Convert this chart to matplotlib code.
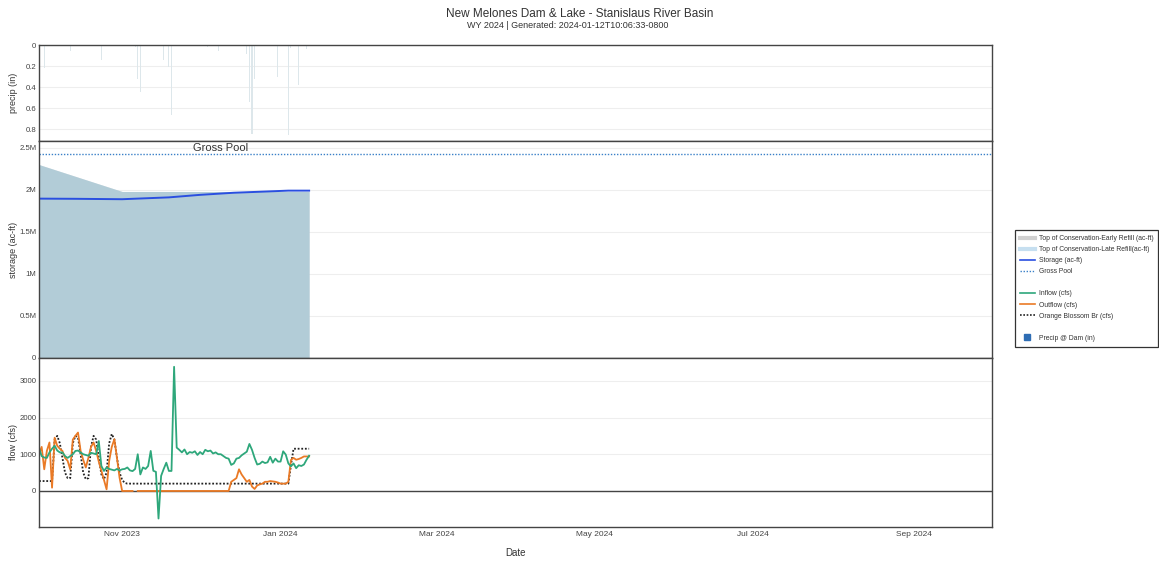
import numpy as np
import pandas as pd
import matplotlib
matplotlib.use("Agg")
import matplotlib.pyplot as plt
import matplotlib.dates as mdates
from matplotlib.lines import Line2D
from matplotlib.ticker import FixedLocator, FuncFormatter

plt.rcParams['font.family'] = ['Liberation Sans', 'DejaVu Sans']

# daily record, WY 2024 to date
dates = pd.date_range('2023-09-30', '2024-01-12', freq='D')

inflow = [1160, 950, 910, 900, 1050, 1150, 1230, 1100, 1050, 1050,
          950, 900, 950, 1000, 1090, 1100, 1050, 1000, 980, 960,
          1040, 1020, 1000, 1360, 680, 545, 640, 600, 580, 560,
          600, 560, 590, 600, 640, 560, 540, 600, 1000, 450,
          640, 600, 680, 1090, 550, 520, -750, 410, 600, 770,
          545, 545, 3380, 1180, 1120, 1050, 1130, 1000, 1060, 1040,
          1080, 980, 1060, 1000, 1120, 1080, 1100, 1020, 1050, 1000,
          1000, 950, 900, 880, 710, 750, 880, 900, 970, 1020,
          1070, 1280, 1120, 900, 720, 740, 800, 760, 780, 930,
          770, 880, 800, 800, 1080, 990, 750, 670, 750, 620,
          700, 680, 720, 850, 960]

outflow = [1000, 1200, 590, 1090, 1320, 90, 1450, 1230, 1150, 1090,
           900, 820, 590, 1400, 1500, 1590, 1090, 850, 640, 900,
           1200, 1320, 1090, 800, 550, 300, 45, 820, 1200, 1410,
           900, 360, 0, 0, 0, 0, 0, np.nan, 0, 0,
           0, 0, 0, 0, 0, 0, 0, 0, 0, 0,
           0, 0, 0, 0, 0, 0, 0, 0, 0, 0,
           0, 0, 0, 0, 0, 0, 0, 0, 0, 0,
           0, 0, 0, 0, 250, 300, 350, 590, 450, 350,
           250, 300, 120, 55, 150, 180, 200, 250, 250, 270,
           260, 250, 230, 200, 200, 200, 250, 845, 900, 850,
           870, 900, 940, 940, 940]

orange_blossom = [270, 270, 270, 270, 270, 270, 1400, 1500, 1300, 900,
                  500, 350, 350, 1300, 1500, 1450, 1000, 500, 320, 350,
                  1200, 1500, 1400, 900, 450, 320, 500, 1300, 1550, 1400,
                  900, 500, 300, 220] + [200] * 63 + [700, 1150, 1150, 1150,
                  1150, 1150, 1150, 1150]

storage_dates = pd.to_datetime(['2023-09-30', '2023-10-14', '2023-11-01', '2023-11-19',
                                '2023-12-01', '2023-12-14', '2024-01-04', '2024-01-12'])
storage = [1.895e6, 1.893e6, 1.888e6, 1.91e6, 1.94e6, 1.965e6, 1.99e6, 1.99e6]

toc_dates = pd.to_datetime(['2023-09-30', '2023-11-01', '2024-01-12'])
toc_early = [2.30e6, 1.98e6, 1.98e6]
toc_late = [2.30e6, 1.98e6, 1.98e6]

gross_pool = 2.42e6

precip_dates = pd.to_datetime(['2023-10-02', '2023-10-12', '2023-10-24', '2023-11-06',
                               '2023-11-07', '2023-11-08', '2023-11-17', '2023-11-19',
                               '2023-11-20', '2023-12-04', '2023-12-08', '2023-12-19',
                               '2023-12-20', '2023-12-21', '2023-12-22', '2023-12-31',
                               '2024-01-04', '2024-01-05', '2024-01-08', '2024-01-11'])
precip = [0.22, 0.06, 0.14, 0.02, 0.32, 0.45, 0.14, 0.21, 0.67, 0.02,
          0.06, 0.09, 0.54, 0.85, 0.32, 0.30, 0.86, 0.03, 0.38, 0.04]

x0, x1 = pd.Timestamp('2023-09-30'), pd.Timestamp('2024-10-01')

frame_c = '#444444'
grid_c = '#eeeeee'
tick_c = '#444444'
text_c = '#333333'

fig = plt.figure(figsize=(11.59, 5.63), dpi=100)
gs = fig.add_gridspec(3, 1, height_ratios=[96, 217, 169], hspace=0,
                      left=0.0337, right=0.856, top=0.920, bottom=0.064)
ax_p = fig.add_subplot(gs[0])
ax_s = fig.add_subplot(gs[1], sharex=ax_p)
ax_f = fig.add_subplot(gs[2], sharex=ax_p)

for ax in (ax_p, ax_s, ax_f):
    for sp in ax.spines.values():
        sp.set_color(frame_c)
        sp.set_linewidth(1.0)
    ax.tick_params(length=0, labelsize=5.6, colors=tick_c, pad=2)
    ax.grid(axis='y', color=grid_c, linewidth=0.8)
    ax.set_axisbelow(True)

# precipitation, hanging from the top
ax_p.bar(precip_dates, precip, width=0.4, color='#dde7eb', linewidth=0)
ax_p.set_ylim(0.914, 0)
ax_p.yaxis.set_major_locator(FixedLocator([0, 0.2, 0.4, 0.6, 0.8]))
ax_p.yaxis.set_major_formatter(FuncFormatter(lambda v, p: '0' if v == 0 else f'{v:g}'))
ax_p.set_ylabel('precip (in)', fontsize=6.5, color=text_c)
ax_p.tick_params(labelbottom=False)

# storage and flood control space
ax_s.fill_between(toc_dates, 0, toc_early, color='#b6c6cf', linewidth=0)
ax_s.fill_between(toc_dates, 0, toc_late, color='#add8e6', alpha=0.35, linewidth=0)
ax_s.plot(storage_dates, storage, color='#2a4fe0', linewidth=1.4)
ax_s.axhline(gross_pool, color='#3a80c8', linestyle=(0, (1, 1.2)), linewidth=1.0)
ax_s.text(pd.Timestamp('2023-12-09'), gross_pool + 0.015e6, 'Gross Pool',
          ha='center', va='bottom', fontsize=8, color=text_c)
ax_s.set_ylim(0, 2.58e6)
ax_s.yaxis.set_major_locator(FixedLocator([0, 0.5e6, 1e6, 1.5e6, 2e6, 2.5e6]))
ax_s.yaxis.set_major_formatter(FuncFormatter(lambda v, p: '0' if v == 0 else f'{v / 1e6:g}M'))
ax_s.set_ylabel('storage (ac-ft)', fontsize=6.5, color=text_c)
ax_s.tick_params(labelbottom=False)

# flows
ax_f.axhline(0, color=frame_c, linewidth=1.0)
ax_f.plot(dates, orange_blossom, color='#222222', linestyle=(0, (1, 1)), linewidth=1.3)
ax_f.plot(dates, outflow, color='#ea7a26', linewidth=1.3)
ax_f.plot(dates, inflow, color='#2ea77b', linewidth=1.3)
ax_f.set_ylim(-980, 3620)
ax_f.yaxis.set_major_locator(FixedLocator([0, 1000, 2000, 3000]))
ax_f.set_ylabel('flow (cfs)', fontsize=6.5, color=text_c)
ax_f.set_xlim(x0, x1)
ax_f.xaxis.set_major_locator(mdates.MonthLocator(bymonth=[1, 3, 5, 7, 9, 11]))
ax_f.xaxis.set_major_formatter(mdates.DateFormatter('%b %Y'))
ax_f.tick_params(axis='x', pad=3, labelsize=6.0)
ax_f.set_xlabel('Date', fontsize=7, color=text_c)
ax_f.xaxis.set_label_coords(0.5, -0.155)
ax_f.xaxis.label.set_va('center')

for ax in (ax_p, ax_s, ax_f):
    ax.yaxis.set_label_coords(-0.0265, 0.5)
    ax.yaxis.label.set_va('center')

fig.suptitle('New Melones Dam & Lake - Stanislaus River Basin', y=0.985,
             fontsize=8.5, color=text_c)
fig.text(0.49, 0.951, 'WY 2024 | Generated: 2024-01-12T10:06:33-0800',
         ha='center', fontsize=6.5, color=text_c)

blank = Line2D([], [], linestyle='none')
handles = [
    Line2D([], [], color='#d0d0d0', linewidth=3),
    Line2D([], [], color='#c6dff0', linewidth=3),
    Line2D([], [], color='#2a4fe0', linewidth=1.2),
    Line2D([], [], color='#3a80c8', linestyle=(0, (1, 1.2)), linewidth=1.0),
    blank,
    Line2D([], [], color='#2ea77b', linewidth=1.2),
    Line2D([], [], color='#ea7a26', linewidth=1.2),
    Line2D([], [], color='#222222', linestyle=(0, (1, 1)), linewidth=1.2),
    blank,
    Line2D([], [], color='#2e6db4', marker='s', markersize=5, linestyle='none'),
]
labels = ['Top of Conservation-Early Refill (ac-ft)', 'Top of Conservation-Late Refill(ac-ft)',
          'Storage (ac-ft)', 'Gross Pool', ' ', 'Inflow (cfs)', 'Outflow (cfs)',
          'Orange Blossom Br (cfs)', ' ', 'Precip @ Dam (in)']
leg = fig.legend(handles, labels, loc='upper left', bbox_to_anchor=(0.873, 0.597),
                 fontsize=4.9, frameon=True, fancybox=False, handlelength=2.2,
                 labelspacing=0.6, borderpad=0.7, handletextpad=0.6,
                 labelcolor=text_c)
leg.get_frame().set_edgecolor('#000000')
leg.get_frame().set_linewidth(0.9)

fig.savefig('out.png', dpi=100)
